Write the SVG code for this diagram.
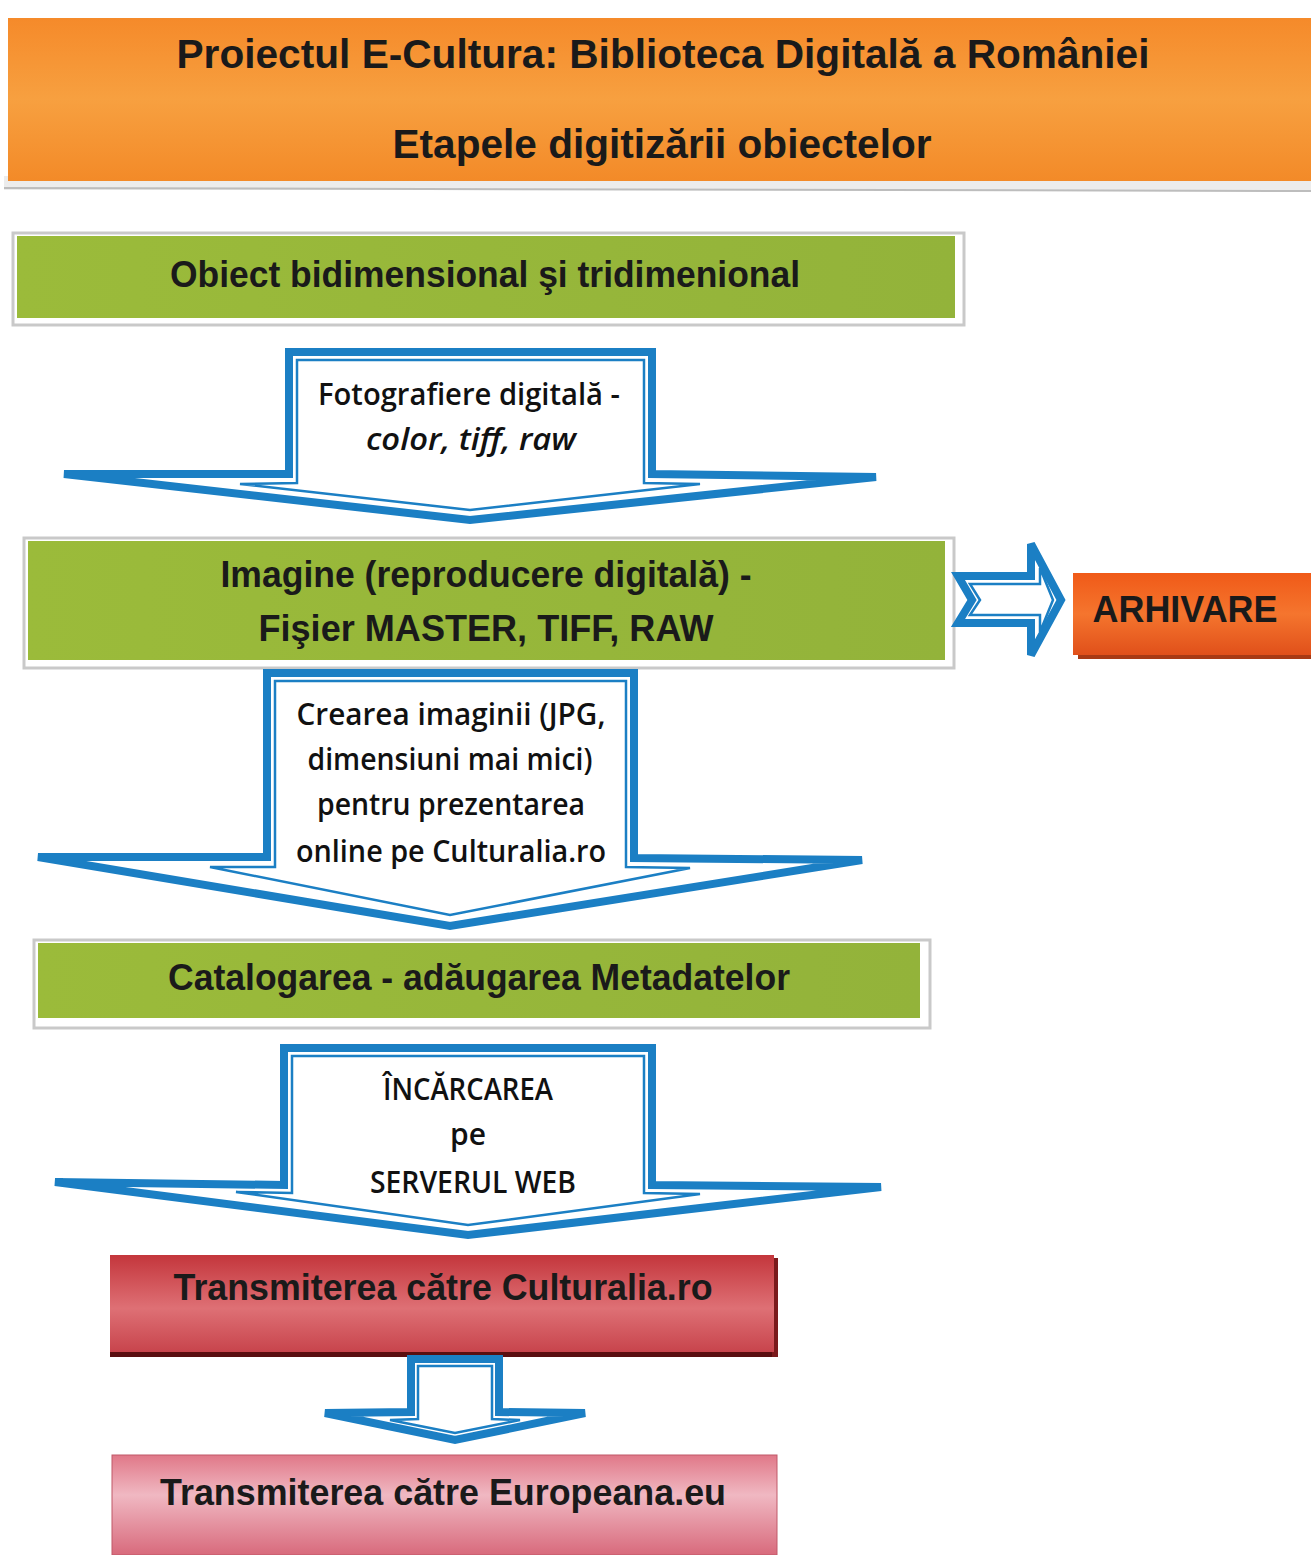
<svg xmlns="http://www.w3.org/2000/svg" width="1311" height="1555" viewBox="0 0 1311 1555">
<defs>
<linearGradient id="gOrange" x1="0" y1="0" x2="0" y2="1">
<stop offset="0" stop-color="#f58a2a"/><stop offset="0.5" stop-color="#f7a040"/><stop offset="1" stop-color="#f38a28"/>
</linearGradient>
<linearGradient id="gGreen" x1="0" y1="0" x2="1" y2="0">
<stop offset="0" stop-color="#9bbb3a"/><stop offset="1" stop-color="#93b33a"/>
</linearGradient>
<linearGradient id="gArh" x1="0" y1="0" x2="0" y2="1">
<stop offset="0" stop-color="#f05a18"/><stop offset="0.5" stop-color="#f5752e"/><stop offset="1" stop-color="#e0501a"/>
</linearGradient>
<linearGradient id="gRed" x1="0" y1="0" x2="0" y2="1">
<stop offset="0" stop-color="#c4363c"/><stop offset="0.55" stop-color="#de7075"/><stop offset="1" stop-color="#c8444c"/>
</linearGradient>
<linearGradient id="gPink" x1="0" y1="0" x2="0" y2="1">
<stop offset="0" stop-color="#e07888"/><stop offset="0.4" stop-color="#f0b8c2"/><stop offset="1" stop-color="#d86a7c"/>
</linearGradient>
</defs>
<style>
.h{font-family:"Liberation Sans",Arial,sans-serif;font-weight:bold;fill:#1a1a1a;text-anchor:middle}
.a{font-family:"Open Sans","Noto Sans",sans-serif;font-weight:600;fill:#111;text-anchor:middle;font-size:30px}
.frame{fill:#ffffff;stroke:#c9c9c9;stroke-width:3}
.out{fill:#ffffff;stroke:#1b7fc4;stroke-width:8;stroke-linejoin:miter;stroke-miterlimit:3}
.in{fill:none;stroke:#1b7fc4;stroke-width:2.5;stroke-linejoin:miter;stroke-miterlimit:3}
</style>

<g id="title">
<rect x="4" y="176" width="1307" height="14" fill="#ececec"/>
<line x1="4" y1="188" x2="1311" y2="191" stroke="#bdbdbd" stroke-width="2"/>
<rect x="8" y="18" width="1303" height="163" fill="url(#gOrange)"/>
<text class="h" x="663" y="68" font-size="40" textLength="973" lengthAdjust="spacingAndGlyphs">Proiectul E-Cultura: Biblioteca Digitală a României</text>
<text class="h" x="662" y="158" font-size="40" textLength="539" lengthAdjust="spacingAndGlyphs">Etapele digitizării obiectelor</text>
</g>

<g id="n1">
<rect class="frame" x="13" y="233" width="951" height="92"/>
<rect x="17" y="236" width="938" height="82" fill="url(#gGreen)"/>
<text class="h" x="485" y="287" font-size="36" textLength="630" lengthAdjust="spacingAndGlyphs">Obiect bidimensional şi tridimenional</text>
</g>

<g id="n2">
<rect class="frame" x="24" y="538" width="930" height="130"/>
<rect x="28" y="541" width="917" height="119" fill="url(#gGreen)"/>
<text class="h" x="486" y="587" font-size="36" textLength="531" lengthAdjust="spacingAndGlyphs">Imagine (reproducere digitală) -</text>
<text class="h" x="486" y="641" font-size="36" textLength="455" lengthAdjust="spacingAndGlyphs">Fişier MASTER, TIFF, RAW</text>
</g>

<g id="n3">
<rect x="1078" y="579" width="233" height="80" fill="#a83a14"/>
<rect x="1073" y="573" width="238" height="82" fill="url(#gArh)"/>
<text class="h" x="1185" y="622" font-size="36" textLength="185" lengthAdjust="spacingAndGlyphs">ARHIVARE</text>
</g>

<g id="n4">
<rect class="frame" x="34" y="940" width="896" height="88"/>
<rect x="38" y="943" width="882" height="75" fill="url(#gGreen)"/>
<text class="h" x="479" y="990" font-size="36" textLength="622" lengthAdjust="spacingAndGlyphs">Catalogarea - adăugarea Metadatelor</text>
</g>

<g id="n5">
<rect x="110" y="1351" width="668" height="6" fill="#5a0e10"/>
<rect x="772" y="1258" width="6" height="99" fill="#7a1a1c"/>
<rect x="110" y="1255" width="664" height="97" fill="url(#gRed)"/>
<text class="h" x="443" y="1300" font-size="36" textLength="539" lengthAdjust="spacingAndGlyphs">Transmiterea către Culturalia.ro</text>
</g>

<g id="n6">
<rect x="112" y="1455" width="665" height="100" fill="url(#gPink)" stroke="#c05868" stroke-width="1"/>
<text class="h" x="443" y="1505" font-size="36" textLength="566" lengthAdjust="spacingAndGlyphs">Transmiterea către Europeana.eu</text>
</g>

<g id="connectors">
<g id="c1">
<polygon class="out" points="289,352 652,352 652,474 876,477 470,520 64,474 289,474"/>
<polygon class="in" points="297,360 644,360 644,483 700,484 470,510 240,484 297,483"/>
<text class="a" x="469" y="405" textLength="302" lengthAdjust="spacingAndGlyphs">Fotografiere digitală -</text>
<text class="a" x="471" y="450" font-style="italic" textLength="210" lengthAdjust="spacingAndGlyphs">color, tiff, raw</text>
</g>
<g id="c2">
<polygon class="out" points="267,673 634,673 634,858 862,860 450,926 38,857 267,857"/>
<polygon class="in" points="275,681 626,681 626,867 690,868 450,915 210,867 275,867"/>
<text class="a" x="451" y="725" textLength="309" lengthAdjust="spacingAndGlyphs">Crearea imaginii (JPG,</text>
<text class="a" x="450" y="770" textLength="285" lengthAdjust="spacingAndGlyphs">dimensiuni mai mici)</text>
<text class="a" x="451" y="815" textLength="268" lengthAdjust="spacingAndGlyphs">pentru prezentarea</text>
<text class="a" x="451" y="862" textLength="310" lengthAdjust="spacingAndGlyphs">online pe Culturalia.ro</text>
</g>
<g id="c3">
<polygon class="out" points="284,1048 652,1048 652,1185 881,1187 468,1235 55,1182 284,1185"/>
<polygon class="in" points="292,1056 644,1056 644,1193 700,1194 468,1225 236,1192 292,1193"/>
<text class="a" x="468" y="1100" textLength="170" lengthAdjust="spacingAndGlyphs">ÎNCĂRCAREA</text>
<text class="a" x="468" y="1145">pe</text>
<text class="a" x="473" y="1193" textLength="206" lengthAdjust="spacingAndGlyphs">SERVERUL WEB</text>
</g>
<g id="c4">
<polygon class="out" points="411,1359 499,1359 499,1412 585,1413 455,1440 325,1413 411,1412"/>
<polygon class="in" points="418,1366 492,1366 492,1419 520,1420 455,1433 390,1420 418,1419"/>
</g>
<g id="c5">
<polygon class="out" points="958,576 1031,576 1031,544 1061,600 1031,655 1031,623 958,623 972,600"/>
<polygon class="in" points="970,584 1040,584 1040,568 1053,600 1040,632 1040,615 970,615 980,600"/>
</g>
</g>
</svg>
